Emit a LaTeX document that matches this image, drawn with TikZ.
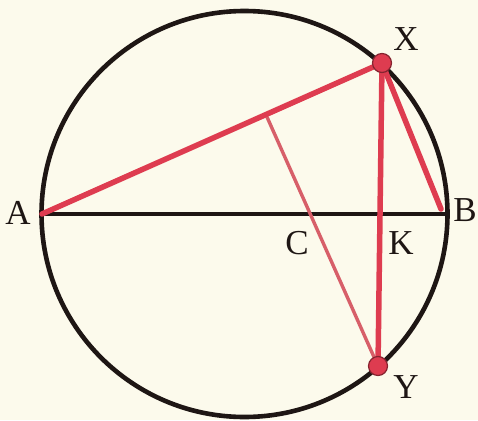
\documentclass[tikz,border=0pt]{standalone}
\usepackage{tikz}
\usepackage{fontspec}
\setmainfont{Liberation Serif}
\definecolor{bg}{RGB}{252,250,236}
\definecolor{redl}{RGB}{222,60,80}
\definecolor{pinkl}{RGB}{215,95,105}
\definecolor{ink}{RGB}{30,22,20}
\tikzset{
  redline/.style={redl,line width=5.5pt,line cap=round},
  thinred/.style={pinkl,line width=3.4pt},
  lbl/.style={font=\fontsize{35}{38}\selectfont,text=ink,inner sep=0pt},
  dot/.style={circle,fill=redl,draw=redl!60!black,line width=1.2pt,minimum size=19pt,inner sep=0pt}
}
\begin{document}
\begin{tikzpicture}[x=1pt,y=-1pt]
\fill[bg] (0,0) rectangle (478,420);
\useasboundingbox (0,0) rectangle (478,420);
\coordinate (O) at (244.5,214);
\coordinate (A) at (42,214);
\coordinate (B) at (447,214);
\coordinate (X) at (382,63);
\coordinate (Y) at (378,366);
\coordinate (F) at (267,117);
\coordinate (C) at (310,214);
\coordinate (K) at (380.5,214);
\coordinate (Be) at (441,209);
\draw[ink,line width=4.6pt] (O) circle (203);
\draw[ink,line width=3.2pt] (A) -- (B);
\draw[thinred] (F) -- (Y);
\draw[redline] (A) -- (X);
\draw[redline] (X) -- (Y);
\draw[redline] (X) -- (Be);
\node[dot] (Xd) at (X) {};
\node[dot] (Yd) at (Y) {};
\node[lbl] (LA) at (18,213) {A};
\node[lbl] (LB) at (465,210) {B};
\node[lbl] (LX) at (406,39) {X};
\node[lbl] (LY) at (406,387) {Y};
\node[lbl] (LC) at (297,243) {C};
\node[lbl] (LK) at (401,243) {K};
\end{tikzpicture}
\end{document}
